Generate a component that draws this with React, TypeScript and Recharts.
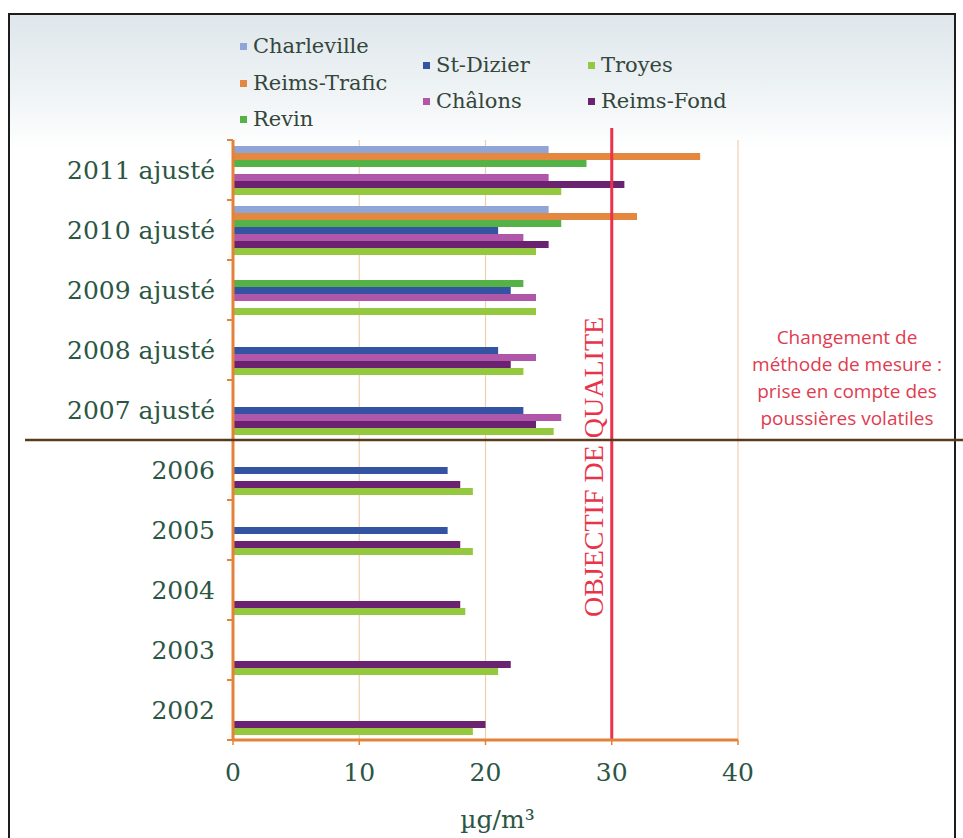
import React from 'react';
import { BarChart, Bar, XAxis, YAxis, CartesianGrid, ReferenceLine, Legend } from 'recharts';

const categories = ['2011 ajusté', '2010 ajusté', '2009 ajusté', '2008 ajusté', '2007 ajusté', '2006', '2005', '2004', '2003', '2002'];
const charleville = [25, 25, null, null, null, null, null, null, null, null];
const reimsTrafic = [37, 32, null, null, null, null, null, null, null, null];
const revin = [28, 26, 23, null, null, null, null, null, null, null];
const stDizier = [null, 21, 22, 21, 23, 17, 17, null, null, null];
const chalons = [25, 23, 24, 24, 26, null, null, null, null, null];
const reimsFond = [31, 25, null, 22, 24, 18, 18, 18, 22, 20];
const troyes = [26, 24, 24, 23, 25.4, 19, 19, 18.4, 21, 19];
const xTicks = [0, 10, 20, 30, 40];
const objectif = 30;
const methodBreak = '2006';
const noteLines = ['Changement de', 'méthode de mesure :', 'prise en compte des', 'poussières volatiles'];

const series = [
  { key: 'charleville', name: 'Charleville', color: '#8ea5d6', values: charleville },
  { key: 'reimsTrafic', name: 'Reims-Trafic', color: '#e3883e', values: reimsTrafic },
  { key: 'revin', name: 'Revin', color: '#55b246', values: revin },
  { key: 'stDizier', name: 'St-Dizier', color: '#3553a3', values: stDizier },
  { key: 'chalons', name: 'Châlons', color: '#b157a9', values: chalons },
  { key: 'reimsFond', name: 'Reims-Fond', color: '#6b2371', values: reimsFond },
  { key: 'troyes', name: 'Troyes', color: '#94c83f', values: troyes },
];

const data = categories.map((cat, i) => {
  const row: Record<string, any> = { cat };
  series.forEach((s) => { row[s.key] = s.values[i]; });
  return row;
});

// legend slots (three columns like the original)
const legendPos: Record<string, { x: number; y: number }> = {
  'Charleville': { x: 240, y: 46 },
  'Reims-Trafic': { x: 240, y: 83 },
  'Revin': { x: 240, y: 119 },
  'St-Dizier': { x: 423, y: 65 },
  'Châlons': { x: 423, y: 101 },
  'Troyes': { x: 588, y: 65 },
  'Reims-Fond': { x: 588, y: 101 },
};

const W = 963;
const H = 838;
const TOP = 140;
const BOTTOM = 740;
const AXIS = '#e4823a';
const TEXT = '#2c5644';
const RED = '#e8334b';
const serif = '"DejaVu Serif", serif';
const bandHalf = (BOTTOM - TOP) / categories.length / 2;

function YTick(props: any) {
  const { x, y, payload, index } = props;
  const axisX = x + 18;
  return (
    <g>
      <text x={x} y={y + 9} textAnchor="end" fontFamily={serif} fontSize={25} fill={TEXT}>
        {payload.value}
      </text>
      <line x1={axisX - 6} x2={axisX} y1={y + bandHalf} y2={y + bandHalf} stroke={AXIS} strokeWidth={2} />
      {index === 0 && (
        <line x1={axisX - 6} x2={axisX} y1={y - bandHalf} y2={y - bandHalf} stroke={AXIS} strokeWidth={2} />
      )}
      {payload.value === methodBreak && (
        <line x1={25} x2={W} y1={y - bandHalf} y2={y - bandHalf} stroke="#5a3a1d" strokeWidth={2.5} />
      )}
    </g>
  );
}

function LegendBox(props: any) {
  const payload = props.payload || [];
  return (
    <div style={{ position: 'relative', width: 0, height: 0, overflow: 'visible' }}>
      {payload.map((p: any) => {
        const pos = legendPos[p.value];
        if (!pos) return null;
        return (
          <div
            key={p.value}
            style={{
              position: 'absolute',
              left: pos.x,
              top: pos.y - 14,
              height: 28,
              lineHeight: '28px',
              whiteSpace: 'nowrap',
              fontFamily: serif,
              fontSize: 21,
              color: '#34463c',
            }}
          >
            <span style={{ display: 'inline-block', width: 7, height: 7, background: p.color, marginRight: 6, verticalAlign: 'middle', position: 'relative', top: -1 }} />
            {p.value}
          </div>
        );
      })}
    </div>
  );
}

export default function App() {
  return (
    <div style={{ position: 'absolute', left: 0, top: 0, width: W, height: H, overflow: 'hidden', background: '#fff' }}>
      <div
        style={{
          position: 'absolute',
          left: 8,
          top: 13,
          width: 948,
          height: 840,
          boxSizing: 'border-box',
          border: '2px solid #1d1d1d',
          background: 'linear-gradient(180deg, #dfe7ec 0px, #edf2f4 70px, #ffffff 135px)',
        }}
      />
      <div style={{ position: 'absolute', left: 0, top: 0 }}>
        <BarChart
          width={W}
          height={H}
          data={data}
          layout="vertical"
          barSize={7}
          barGap={0}
          margin={{ top: TOP, right: W - 738, bottom: 38, left: 33 }}
        >
          <CartesianGrid horizontal={false} vertical stroke="#f0cfae" strokeWidth={1.2} />
          <XAxis
            type="number"
            domain={[0, 40]}
            ticks={xTicks}
            height={60}
            axisLine={{ stroke: AXIS, strokeWidth: 3 }}
            tickLine={{ stroke: AXIS, strokeWidth: 1.5 }}
            tickSize={5}
            tickMargin={18}
            tick={{ fill: TEXT, fontSize: 25, fontFamily: serif }}
            label={{ value: 'µg/m³', position: 'bottom', offset: 10, dx: 12, fill: TEXT, fontSize: 25, fontFamily: serif }}
          />
          <YAxis
            type="category"
            dataKey="cat"
            width={200}
            interval={0}
            axisLine={{ stroke: AXIS, strokeWidth: 3 }}
            tickLine={false}
            tickSize={6}
            tickMargin={12}
            tick={<YTick />}
          />
          <Legend
            verticalAlign="top"
            content={<LegendBox />}
            wrapperStyle={{ position: 'absolute', left: 0, top: 0, width: 0, height: 0, overflow: 'visible' }}
          />
          {series.map((s) => (
            <Bar key={s.key} dataKey={s.key} name={s.name} fill={s.color} isAnimationActive={false} />
          ))}
          <ReferenceLine
            x={objectif}
            stroke={RED}
            strokeWidth={3}
            shape={(p: any) => (
              <line x1={p.x1} x2={p.x2} y1={Math.min(p.y1, p.y2) - 12} y2={Math.max(p.y1, p.y2)} stroke={RED} strokeWidth={3} />
            )}
            label={(p: any) => {
              const vb = p.viewBox;
              return (
                <text
                  transform={`translate(${vb.x - 9}, ${vb.y + vb.height * 0.545}) rotate(-90)`}
                  textAnchor="middle"
                  fontFamily='"Liberation Serif", serif'
                  fontSize={28}
                  fill={RED}
                >
                  OBJECTIF DE QUALITE
                </text>
              );
            }}
          />
        </BarChart>
      </div>
      {noteLines.map((t, i) => (
        <div
          key={t}
          style={{
            position: 'absolute',
            left: 747,
            width: 200,
            top: 324 + i * 27,
            textAlign: 'center',
            fontFamily: '"Open Sans", sans-serif',
            fontSize: 19,
            lineHeight: '27px',
            color: '#e03c50',
            whiteSpace: 'nowrap',
          }}
        >
          {t}
        </div>
      ))}
    </div>
  );
}
